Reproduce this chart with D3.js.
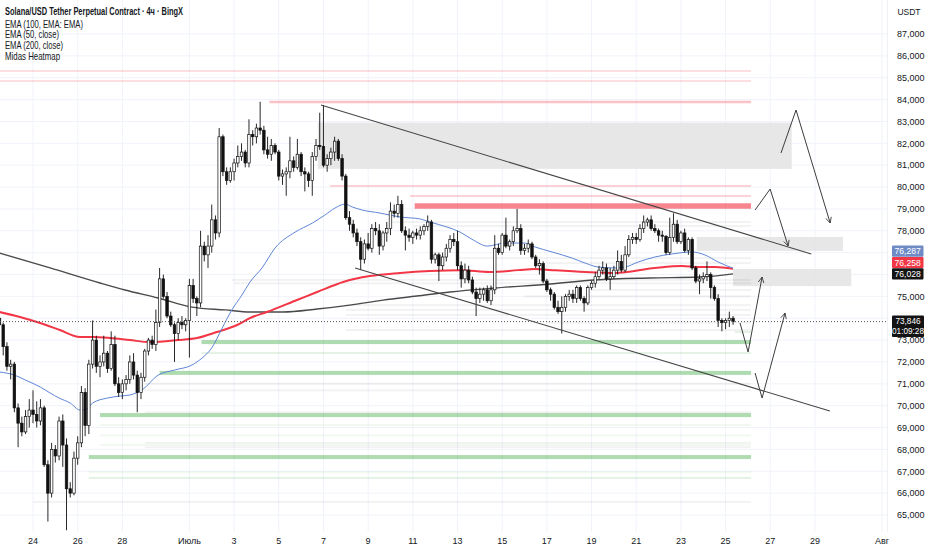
<!DOCTYPE html>
<html><head><meta charset="utf-8">
<script src="https://cdn.jsdelivr.net/npm/d3@7"></script>
<style>body{margin:0;background:#fff;} svg{display:block;font-family:"Liberation Sans",Arial,sans-serif;}</style>
</head><body><svg id="c" width="932" height="550"></svg>
<script>
// ---------- DATA ----------
const firstCandle = "2025-06-22T12:00:00Z";   // 4h candles
const opens = [
74000,73700,72700,71800,71900,69900,69200,68800,69500,69800,
69600,69300,69900,67300,66000,68000,67700,69300,68200,66200,
66000,67600,68300,70600,69100,71900,73000,71800,72000,72400,
71700,72800,71000,70600,71000,71200,72000,71400,70600,71300,
72500,73000,72800,73800,75800,75000,74100,73700,73300,73800,
73700,73900,75500,74900,74700,77300,76900,77300,78500,77900,
82300,80700,80300,80700,81100,81400,81600,81100,82400,82300,
82700,82600,81700,81500,81900,81600,80500,80600,80700,81200,
80900,81500,80700,80600,80300,81400,81900,81850,81000,81300,
81600,82100,81300,80500,78600,78300,77900,77500,76700,77400,
77200,78100,78000,77300,77900,78100,78900,78800,79200,78000,
77800,77700,77900,77800,78000,78200,78400,76700,76900,76400,
76800,77200,77600,77500,76400,75800,76200,75750,75200,74900,
75100,75300,74800,75300,77200,77000,77800,77300,77500,78000,
78100,77100,77200,77400,76800,76400,76500,75700,75300,75100,
74500,74300,74500,75000,75100,74900,75400,74900,74700,75400,
75600,75900,76200,76300,75800,75900,76200,76600,76200,76900,
77600,77700,77600,78100,78400,78500,78100,78000,77800,77750,
77000,77700,78300,77500,77900,77100,77600,76300,75700,75800,
75900,76000,75400,74900,73900,73800,73900,74000];
const highs = [
74200,73800,72900,72100,72000,70100,69500,69800,70300,70700,
70200,70300,70000,67500,68300,68200,69500,69600,68500,66500,
67900,68600,70900,70800,72100,73900,73200,72300,73200,72500,
73400,73200,71300,71200,71400,72300,72400,71600,71500,72600,
73100,73200,74400,76300,76000,75200,74300,73800,74000,74100,
74000,75800,75800,75000,78000,77500,77800,79200,78700,82700,
82400,80900,80900,81300,81900,82000,81700,83100,82600,82900,
83900,82800,82300,82200,82000,81700,80800,80900,82300,81400,
82200,81600,80900,80700,81600,82200,83400,83750,81500,81800,
82300,82200,81500,80600,78900,78500,78100,77700,77600,77900,
78300,78400,78300,78000,78400,79300,79200,79600,79400,78200,
78100,78000,78100,78200,78300,78700,78500,77000,77000,77000,
77400,77800,77900,78000,76600,76500,76400,75900,75400,75400,
75400,75500,75500,77800,77400,77900,78600,77600,78200,79000,
78300,77400,77600,77500,76900,76700,76600,75800,75400,75200,
74800,75000,75100,75300,75300,75500,75500,75000,75500,75700,
76100,76400,76600,76500,76300,76400,77100,76900,77300,77800,
77900,77900,78300,78700,78600,78700,78300,78100,78000,77800,
78600,78800,78500,78000,78100,77700,77700,76400,76000,76100,
76600,76100,75500,75100,74000,74000,74300,74100];
const lows = [
73500,72300,71600,71200,69700,68100,68600,68700,69000,69200,
69000,69100,67200,64700,65800,67400,67500,67200,64300,65800,
65900,67300,68100,68600,68700,71700,71500,71300,71800,71500,
71600,70900,70400,70300,70700,71000,71200,69700,70300,71100,
72300,72600,72500,73600,74900,74000,73600,72000,73000,73500,
73400,72200,74700,74100,74500,76600,76300,77000,77600,77700,
80500,80100,80200,80300,80900,81200,80900,80900,81900,82000,
82400,81500,81300,81200,81500,80300,80100,79600,80400,80700,
80800,80500,79800,80000,79600,81200,81700,80900,80700,81000,
81200,81200,80300,78500,78000,77700,77300,76200,76500,77100,
77000,77800,76900,77100,77500,77800,78600,78600,77900,77100,
77500,77400,77600,77600,77800,78000,76500,76500,75700,76200,
76600,77000,77300,76200,75400,75600,75600,75100,74100,74700,
74800,74700,74600,75100,76900,76900,77200,77100,77300,77900,
76900,76900,77000,76700,76300,76000,75600,75200,74800,74400,
74200,73300,74300,74800,74700,74700,74800,74300,74600,75300,
75400,75800,76000,75700,75300,75800,76000,76100,76100,76800,
77400,77400,77500,77900,78200,78000,77900,77500,77500,76900,
76900,77500,77400,77400,77000,76900,76200,75600,75100,75600,
75700,74900,74800,73600,73400,73500,73600,73700];
const closes = [
73700,72700,71800,71900,69900,69200,68800,69500,69800,69600,
69300,69900,67300,66000,68000,67700,69300,68200,66200,66000,
67600,68300,70600,69100,71900,73000,71800,72000,72400,71700,
72800,71000,70600,71000,71200,72000,71400,70600,71300,72500,
73000,72800,73800,75800,75000,74100,73700,73300,73800,73700,
73900,75500,74900,74700,77300,76900,77300,78500,77900,82300,
80700,80300,80700,81100,81400,81600,81100,82400,82300,82700,
82600,81700,81500,81900,81600,80500,80600,80700,81200,80900,
81500,80700,80600,80300,81400,81900,81850,81000,81300,81600,
82100,81300,80500,78600,78300,77900,77500,76700,77400,77200,
78100,78000,77300,77900,78100,78900,78800,79200,78000,77800,
77700,77900,77800,78000,78200,78400,76700,76900,76400,76800,
77200,77600,77500,76400,75800,76200,75750,75200,74900,75100,
75300,74800,75300,77200,77000,77800,77300,77500,78000,78100,
77100,77200,77400,76800,76400,76500,75700,75300,75100,74500,
74300,74500,75000,75100,74900,75400,74900,74700,75400,75600,
75900,76200,76300,75800,75900,76200,76600,76200,76900,77600,
77700,77600,78100,78400,78500,78100,78000,77800,77750,77000,
77700,78300,77500,77900,77100,77600,76300,75700,75800,75900,
76000,75400,74900,73900,73800,73900,74000,73846];

// EMA readings: [candle index, price]
const ema50 = [[0,71540],[4,71400],[7,71170],[11,70850],[13.6,70580],[16,70350],[19,70120],[21.6,69800],[23.5,69850],[25,70120],[29,70350],[32.4,70440],[35,70490],[38.3,70720],[42.6,71400],[47,71630],[51.7,71860],[54.4,72180],[57,72640],[59.8,73550],[62.4,74380],[65.1,75060],[67.3,75660],[70.5,76300],[74,77210],[79.4,77940],[84,78350],[87.4,78720],[90.1,79040],[92.8,79220],[94.7,79090],[97.4,78950],[102.2,78810],[107.6,78630],[113,78540],[115.6,78400],[120.2,78170],[123.7,77940],[127.2,77580],[131,77300],[135.8,77440],[141.1,77440],[143.8,77260],[148.4,77030],[153.8,76750],[157.3,76520],[160.8,76340],[165.3,76300],[168,76340],[171.5,76570],[176,76800],[180.6,76940],[186,77030],[189.5,76890],[193,76570],[197,76287]];
const ema100 = [[0,74285],[5.5,74055],[10.9,73780],[16.2,73460],[21.6,73140],[25.1,73140],[29.7,73095],[35,73000],[40.4,72910],[47.9,73000],[53,73095],[58.4,73370],[63.8,73690],[67.3,74010],[71.8,74285],[79.9,74833],[85.3,75200],[92.3,75660],[99.5,75930],[107.6,76070],[115.6,76160],[123.7,76200],[131.7,76115],[139.3,76200],[143.8,76250],[148.4,76200],[157.3,76115],[165.3,76070],[176,76300],[183.3,76390],[187.6,76340],[192.2,76340],[197,76258]];
const ema200 = [[0,76980],[13.6,76300],[27,75610],[33.7,75290],[42.6,74925],[51.7,74510],[60.6,74380],[67.3,74285],[76.1,74285],[85.3,74420],[94.1,74600],[103,74830],[112.1,75015],[121,75200],[133,75380],[147.9,75565],[159.9,75750],[174.7,75840],[188.2,75885],[197,76028]];

// Heatmap levels
const levelEnd = "2025-07-26T03:20:00Z";
const redPrices = [85308, 84850, 83890, 80050, 79590, 79133];
const redStarts = ["2025-06-20T00:00:00Z","2025-06-20T00:00:00Z","2025-07-04T14:00:00Z","2025-07-07T07:00:00Z","2025-07-10T21:00:00Z","2025-07-11T02:00:00Z"];
const redStrength = [1, 1, 2, 1.5, 1.5, 5];
const greenPrices = [72910, 72410, 71500, 69570, 69115, 68640, 68200, 67650, 66950, 66690, 73370];
const greenStarts = ["2025-07-01T13:00:00Z","2025-07-01T13:00:00Z","2025-06-29T16:00:00Z","2025-06-27T00:00:00Z","2025-06-27T00:00:00Z","2025-06-27T00:00:00Z","2025-06-27T00:00:00Z","2025-06-26T12:00:00Z","2025-06-26T12:00:00Z","2025-06-26T12:00:00Z","2025-07-25T10:00:00Z"];
const greenStrength = [4, 1.5, 4, 4, 1, 0.8, 0.8, 4, 0.8, 1.5, 1.5];
const grayPrices = [78400, 78220, 76750, 76520, 75750, 75600, 75290, 75000, 74600, 74380, 74150, 73800, 73460, 71000, 70700, 69700, 68300, 68100, 65600];
const grayStarts = ["2025-07-10T00:00:00Z","2025-07-11T00:00:00Z","2025-07-13T02:00:00Z","2025-07-17T00:00:00Z","2025-07-02T21:00:00Z","2025-07-03T00:00:00Z","2025-07-19T00:00:00Z","2025-07-16T00:00:00Z","2025-07-08T00:00:00Z","2025-07-08T00:00:00Z","2025-07-08T00:00:00Z","2025-07-17T00:00:00Z","2025-07-08T00:00:00Z","2025-06-29T00:00:00Z","2025-06-29T00:00:00Z","2025-06-29T00:00:00Z","2025-06-29T00:00:00Z","2025-06-29T00:00:00Z","2025-06-24T00:00:00Z"];

// Zones (gray boxes)
const zoneStarts = ["2025-07-06T18:00:00Z","2025-07-23T17:00:00Z","2025-07-25T08:00:00Z"];
const zoneEnds   = ["2025-07-27T23:00:00Z","2025-07-30T06:00:00Z","2025-07-30T15:00:00Z"];
const zoneTops   = [82950, 77720, 76250];
const zoneBottoms= [80830, 77080, 75470];

// Channel trend lines: [time, price]
const upperTrend = [["2025-07-06T21:20:00Z",83750],["2025-07-28T20:00:00Z",76940]];
const lowerTrend = [["2025-07-08T10:00:00Z",76300],["2025-07-29T16:00:00Z",69760]];

// Projection arrows
const arrowPaths = [
  [["2025-07-27T11:30:00Z",81557],["2025-07-28T03:40:00Z",83524],["2025-07-29T16:20:00Z",78355]],
  [["2025-07-26T07:40:00Z",78950],["2025-07-26T23:50:00Z",79910],["2025-07-27T19:10:00Z",77303]],
  [["2025-07-25T15:30:00Z",73781],["2025-07-26T00:10:00Z",72455],["2025-07-26T15:10:00Z",75885]],
  [["2025-07-26T07:40:00Z",71494],["2025-07-26T15:10:00Z",70350],["2025-07-27T15:50:00Z",74238]]
];

// Axes
const priceTicks = [65000,66000,67000,68000,69000,70000,71000,72000,73000,74000,75000,76000,77000,78000,79000,80000,81000,82000,83000,84000,85000,86000,87000];
const dateTicks = ["2025-06-24","2025-06-26","2025-06-28","2025-07-01","2025-07-03","2025-07-05","2025-07-07","2025-07-09","2025-07-11","2025-07-13","2025-07-15","2025-07-17","2025-07-19","2025-07-21","2025-07-23","2025-07-25","2025-07-27","2025-07-29","2025-08-01"];
const dateLabels = ["24","26","28","Июль","3","5","7","9","11","13","15","17","19","21","23","25","27","29","Авг"];
const legendLines = ["Solana/USD Tether Perpetual Contract · 4ч · BingX","EMA (100, EMA: EMA)","EMA (50, close)","EMA (200, close)","Midas Heatmap"];
const countdown = "01:09:28";

// ---------- CHART ----------
const svg = d3.select("#c");
const plotR = 887, plotB = 532;
const x = d3.scaleUtc().domain([new Date("2025-06-24T00:00:00Z"), new Date("2025-08-01T00:00:00Z")]).range([33, 882]);
const y = d3.scaleLinear().domain([65000, 87000]).range([515, 34]);
const t0 = new Date(firstCandle).getTime();
const H4 = 4 * 3600 * 1000;
const tIdx = i => new Date(t0 + i * H4);
const D = s => new Date(s);

svg.append("defs").append("clipPath").attr("id","plot").append("rect")
  .attr("x",0).attr("y",0).attr("width",plotR).attr("height",plotB);
svg.select("defs").append("marker").attr("id","ah").attr("viewBox","0 0 10 10")
  .attr("refX",9).attr("refY",5).attr("markerWidth",7).attr("markerHeight",7)
  .attr("orient","auto").attr("markerUnits","userSpaceOnUse")
  .append("path").attr("d","M1,1 L9,5 L1,9").attr("fill","none").attr("stroke","#3d3d3d").attr("stroke-width",1.2);

// grid
const grid = svg.append("g");
grid.selectAll("line.h").data(priceTicks).join("line")
  .attr("x1",0).attr("x2",plotR).attr("y1",d=>y(d)).attr("y2",d=>y(d))
  .attr("stroke","#f0f3fa").attr("stroke-width",1);
grid.selectAll("line.v").data(dateTicks).join("line")
  .attr("x1",d=>x(D(d+"T00:00:00Z"))).attr("x2",d=>x(D(d+"T00:00:00Z")))
  .attr("y1",0).attr("y2",plotB).attr("stroke","#f0f3fa").attr("stroke-width",1);

const P = svg.append("g").attr("clip-path","url(#plot)");

// zones
P.selectAll("rect.zone").data(zoneStarts).join("rect")
  .attr("x",(d,i)=>x(D(d))).attr("width",(d,i)=>x(D(zoneEnds[i]))-x(D(d)))
  .attr("y",(d,i)=>y(zoneTops[i])).attr("height",(d,i)=>y(zoneBottoms[i])-y(zoneTops[i]))
  .attr("fill","#e3e3e3").attr("opacity",0.85);

// heatmap lines
const xEnd = x(D(levelEnd));
P.selectAll("rect.gray").data(grayPrices).join("rect")
  .attr("x",(d,i)=>x(D(grayStarts[i]))).attr("width",(d,i)=>xEnd-x(D(grayStarts[i])))
  .attr("y",d=>y(d)-1).attr("height",2).attr("fill","rgba(0,0,0,0.05)");
P.selectAll("rect.red").data(redPrices).join("rect")
  .attr("x",(d,i)=>Math.max(0,x(D(redStarts[i])))).attr("width",(d,i)=>xEnd-Math.max(0,x(D(redStarts[i]))))
  .attr("y",(d,i)=>y(d)-Math.min(6,redStrength[i]+0.5)/2).attr("height",(d,i)=>Math.min(6,redStrength[i]+0.5))
  .attr("fill","#f23645").attr("opacity",(d,i)=>redStrength[i]>=4?0.6:(redStrength[i]>=2?0.3:0.22));
P.selectAll("rect.green").data(greenPrices).join("rect")
  .attr("x",(d,i)=>x(D(greenStarts[i]))).attr("width",(d,i)=>xEnd-x(D(greenStarts[i])))
  .attr("y",(d,i)=>y(d)-(greenStrength[i]>=4?2:1)).attr("height",(d,i)=>greenStrength[i]>=4?4:2)
  .attr("fill","#4caf50").attr("opacity",(d,i)=>greenStrength[i]>=4?0.45:(greenStrength[i]>=1.5?0.15:0.08));

// EMAs
const emaLine = d3.line().x(d=>x(tIdx(d[0]))).y(d=>y(d[1])).curve(d3.curveMonotoneX);
P.append("path").datum(ema200).attr("d",emaLine).attr("fill","none").attr("stroke","#4a4a4a").attr("stroke-width",1.4);
P.append("path").datum(ema100).attr("d",emaLine).attr("fill","none").attr("stroke","#f23645").attr("stroke-width",2);
P.append("path").datum(ema50).attr("d",emaLine).attr("fill","none").attr("stroke","#5f86d6").attr("stroke-width",1);

// candles
const bw = (x(tIdx(1)) - x(tIdx(0))) * 0.68;
const candles = P.append("g");
candles.selectAll("line").data(closes).join("line")
  .attr("x1",(d,i)=>x(tIdx(i))).attr("x2",(d,i)=>x(tIdx(i)))
  .attr("y1",(d,i)=>y(highs[i])).attr("y2",(d,i)=>y(lows[i]))
  .attr("stroke","#111").attr("stroke-width",0.9);
candles.selectAll("rect").data(closes).join("rect")
  .attr("x",(d,i)=>x(tIdx(i))-bw/2).attr("width",bw)
  .attr("y",(d,i)=>y(Math.max(opens[i],d)))
  .attr("height",(d,i)=>Math.max(0.8,Math.abs(y(opens[i])-y(d))))
  .attr("fill",(d,i)=>d>=opens[i]?"#fff":"#111")
  .attr("stroke","#111").attr("stroke-width",0.7);

// trend lines
const tl = d3.line().x(d=>x(D(d[0]))).y(d=>y(d[1]));
[upperTrend, lowerTrend].forEach(t=>P.append("path").attr("d",tl(t)).attr("fill","none").attr("stroke","#454545").attr("stroke-width",1.1));
arrowPaths.forEach(a=>P.append("path").attr("d",tl(a)).attr("fill","none").attr("stroke","#3d3d3d").attr("stroke-width",1).attr("marker-end","url(#ah)"));

// current price dotted line
const last = closes[closes.length-1];
svg.append("line").attr("x1",0).attr("x2",plotR).attr("y1",y(last)).attr("y2",y(last))
  .attr("stroke","#555").attr("stroke-width",1).attr("stroke-dasharray","1,2");

// right axis
svg.append("line").attr("x1",plotR+0.5).attr("x2",plotR+0.5).attr("y1",0).attr("y2",plotB).attr("stroke","#eef0f4");
const fmt = d3.format(",");
const v200 = ema200[ema200.length-1][1], v100 = ema100[ema100.length-1][1], v50 = ema50[ema50.length-1][1];
const cy200 = y(v200);
const emaLabels = [[v50, cy200-22.8, "#6f8bc6"],[v100, cy200-11.4, "#f23645"],[v200, cy200, "#131313"]];
const cyL = y(last);
const covered = [[cy200-22.8-5.6, cy200+5.6],[cyL-6, cyL+15]];
const visibleTicks = priceTicks.filter(v => !covered.some(r => y(v)+3 > r[0] && y(v)-3 < r[1]));
svg.selectAll("text.pt").data(visibleTicks).join("text")
  .attr("x",897).attr("y",d=>y(d)+3.3).attr("font-size",9).attr("fill","#131722").text(d=>fmt(d));
svg.append("text").attr("x",909).attr("y",15).attr("font-size",8.5).attr("text-anchor","middle").attr("fill","#131722").text("USDT");

emaLabels.forEach(([val, cy, fill]) => {
  svg.append("rect").attr("x",892).attr("y",cy-5.6).attr("width",31.5).attr("height",11.2).attr("fill",fill).attr("rx",1);
  svg.append("text").attr("x",907.7).attr("y",cy+3.1).attr("font-size",8.6).attr("text-anchor","middle").attr("fill","#fff").text(fmt(val));
});
// last price label (two lines)
svg.append("rect").attr("x",892).attr("y",cyL-6).attr("width",32).attr("height",21.5).attr("fill","#131313").attr("rx",1);
svg.append("text").attr("x",908).attr("y",cyL+2.6).attr("font-size",8.2).attr("text-anchor","middle").attr("fill","#fff").text(fmt(last));
svg.append("text").attr("x",908).attr("y",cyL+12.4).attr("font-size",8.2).attr("text-anchor","middle").attr("fill","#fff").text(countdown);

// bottom axis
svg.selectAll("text.dt").data(dateTicks).join("text")
  .attr("x",d=>x(D(d+"T00:00:00Z"))).attr("y",544).attr("font-size",9).attr("text-anchor","middle")
  .attr("fill","#131722").text((d,i)=>dateLabels[i]);

// legend
const lw = [178, 78, 54, 58, 55], ly = [15, 27.5, 38, 48.8, 60];
svg.selectAll("text.lg").data(legendLines).join("text")
  .attr("x",5).attr("y",(d,i)=>ly[i]).attr("font-size",10.5)
  .attr("font-weight",(d,i)=>i===0?"bold":"normal").attr("fill","#131722")
  .attr("textLength",(d,i)=>lw[i]).attr("lengthAdjust","spacingAndGlyphs").text(d=>d);
</script></body></html>
